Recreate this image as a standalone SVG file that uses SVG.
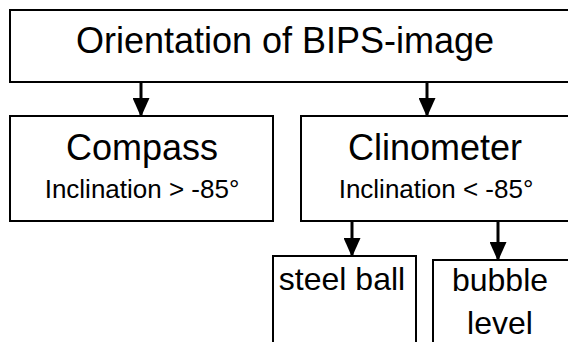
<svg xmlns="http://www.w3.org/2000/svg" width="568" height="342" viewBox="0 0 568 342">
<style>
.box{fill:#fff;stroke:#000;stroke-width:2}
.t{font-family:"Liberation Sans",Arial,sans-serif;fill:#000;text-anchor:middle}
.big{font-size:36px}
.mid{font-size:32px}
.sm{font-size:26px}
.arr{stroke:#000;stroke-width:3;fill:none;marker-end:url(#ah)}
</style>
<defs>
<marker id="ah" markerUnits="userSpaceOnUse" markerWidth="19" markerHeight="17" viewBox="0 0 19 17" refX="18" refY="8.5" orient="auto">
<path d="M0,0 L19,8.5 L0,17 Z" fill="#000"/>
</marker>
</defs>
<rect width="568" height="342" fill="#fff"/>
<g id="connectors">
<line class="arr" x1="141" y1="83" x2="141" y2="116"/>
<line class="arr" x1="427" y1="83" x2="427" y2="116"/>
<line class="arr" x1="352" y1="222" x2="352" y2="256"/>
<line class="arr" x1="498" y1="222" x2="498" y2="260"/>
</g>
<g id="orientation">
<rect class="box" x="10" y="10" width="570" height="72"/>
<text class="t big" x="285" y="53">Orientation of BIPS-image</text>
</g>
<g id="compass">
<rect class="box" x="10" y="116" width="263" height="105"/>
<text class="t big" x="142" y="160">Compass</text>
<text class="t sm" x="142" y="198">Inclination &gt; -85°</text>
</g>
<g id="clinometer">
<rect class="box" x="301" y="116" width="280" height="105"/>
<text class="t big" x="435" y="160">Clinometer</text>
<text class="t sm" x="436" y="198">Inclination &lt; -85°</text>
</g>
<g id="steelball">
<rect class="box" x="273" y="256" width="143" height="100"/>
<text class="t mid" x="342" y="290">steel ball</text>
</g>
<g id="bubblelevel">
<rect class="box" x="433" y="260" width="150" height="100"/>
<text class="t mid" x="500" y="291">bubble</text>
<text class="t mid" x="500" y="334">level</text>
</g>
</svg>
